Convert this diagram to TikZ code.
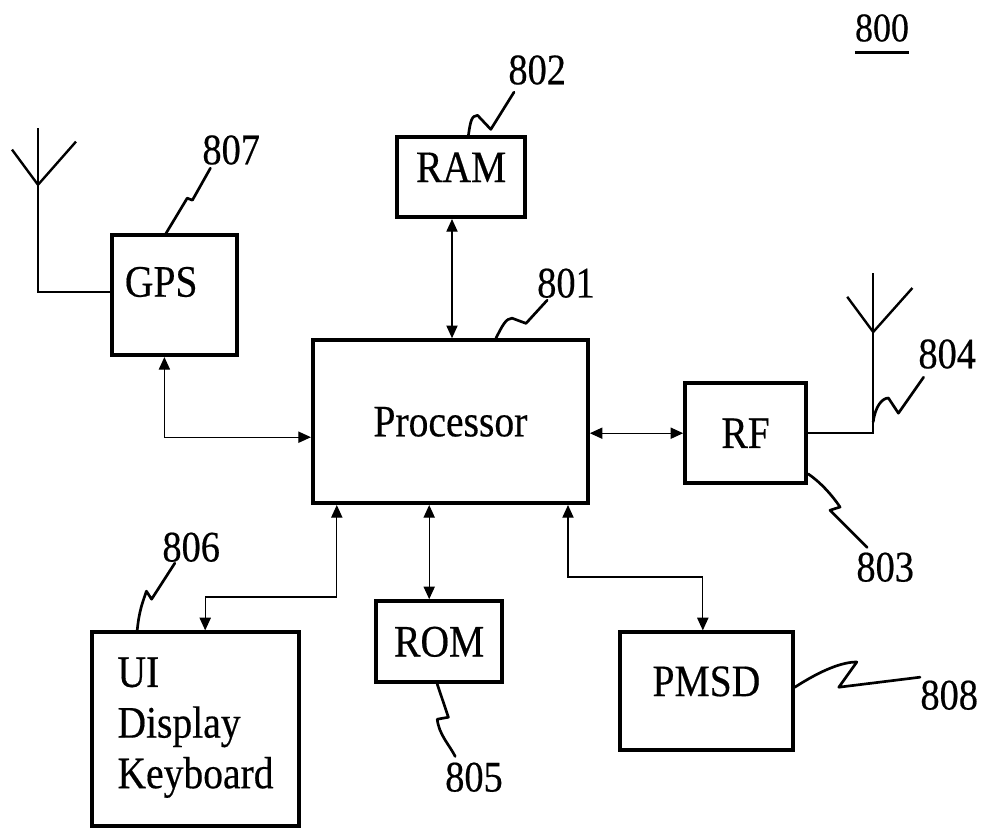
\documentclass[tikz,border=0pt]{standalone}
\usepackage{fontspec}
\setmainfont{Liberation Serif}[FakeStretch=0.88,FakeBold=0.4]
\usetikzlibrary{arrows.meta,positioning}

\begin{document}
\begin{tikzpicture}[
		box/.style={draw, line width=2.6pt, inner sep=0pt, text depth=0pt,
			font=\fontsize{32}{36}\selectfont},
		txt/.style={inner sep=0pt, font=\fontsize{32}{36}\selectfont},
		num/.style={inner sep=0pt, font=\fontsize{31}{36}\selectfont},
		biarrow/.style={{Triangle[length=9pt,width=8pt]}-{Triangle[length=9pt,width=8pt]}, line width=0.9pt},
		lead/.style={line width=1.9pt, line cap=round, line join=round},
		ant/.style={line width=1.7pt}
	]
		\useasboundingbox (0,0) rectangle (24.6,-20.725);
		% blocks
		\node[box, minimum width=6.88cm, minimum height=4.08cm] (proc) at (11.26,-10.54) {Processor};
		\node[box, minimum width=3.2cm, minimum height=2.0cm, text depth=0.5cm] (ram) at (11.53,-4.43) {RAM};
		\node[box, minimum width=3.13cm, minimum height=3.0cm] (gps) at (4.36,-7.38) {};
		\node[txt] (gpstext) at (4.03,-7.05) {GPS};
		\node[box, minimum width=3.03cm, minimum height=2.5cm] (rf) at (18.64,-10.83) {RF};
		\node[box, minimum width=3.15cm, minimum height=2.03cm] (rom) at (10.98,-16.04) {ROM};
		\node[box, minimum width=4.33cm, minimum height=2.95cm, text depth=0.5cm] (pmsd) at (17.66,-17.28) {PMSD};
		\node[box, minimum width=5.18cm, minimum height=4.85cm] (ui) at (4.89,-18.23) {};
		\node[txt, anchor=north west, align=left] (uitext) at (2.93,-16.43) {UI\\Display\\Keyboard};
		% reference numerals
		\node[num, font=\fontsize{29}{34}\selectfont] (n800) at (22.05,-0.70) {800};
		\draw[line width=2.1pt] ([yshift=-0.25cm]n800.south west) -- ([yshift=-0.25cm]n800.south east);
		\node[num] (n802) at (13.43,-1.75) {802};
		\node[num] (n807) at (5.78,-3.75) {807};
		\node[num] (n801) at (14.15,-7.08) {801};
		\node[num] (n804) at (23.68,-8.85) {804};
		\node[num] (n803) at (22.13,-14.18) {803};
		\node[num] (n806) at (4.78,-13.68) {806};
		\node[num] (n805) at (11.85,-19.43) {805};
		\node[num] (n808) at (23.73,-17.38) {808};
		% antennas
		\coordinate (gpsmast) at (0.95,-7.30);
		\draw[ant] (gps.west |- gpsmast) -- (gpsmast) -- ++(0,4.1);
		\draw[ant] ([yshift=2.68cm]gpsmast) -- ++(-0.65,0.88);
		\draw[ant] ([yshift=2.68cm]gpsmast) -- ++(0.95,1.08);
		\coordinate (rfmast) at (21.83,-10.83);
		\draw[ant] (rf.east) -- (rfmast) -- ++(0,4.0);
		\draw[ant] ([yshift=2.53cm]rfmast) -- ++(-0.65,0.88);
		\draw[ant] ([yshift=2.53cm]rfmast) -- ++(0.98,1.1);
		% buses
		\coordinate (ramfoot) at ([xshift=-0.23cm]ram.south);
		\coordinate (romtop) at ([xshift=-0.25cm]rom.north);
		\draw[biarrow] ([xshift=-0.25cm]gps.south) |- ([yshift=-0.39cm]proc.west);
		\draw[biarrow] (ramfoot) -- (ramfoot |- proc.north);
		\draw[biarrow] (proc.east |- rf.west) -- (rf.west);
		\draw[biarrow] ([xshift=-2.84cm]proc.south) -- ++(0,-2.3) -| ([xshift=0.24cm]ui.north);
		\draw[biarrow] (romtop |- proc.south) -- (romtop);
		\draw[biarrow] ([xshift=2.94cm]proc.south) -- ++(0,-1.8) -| ([xshift=-0.09cm]pmsd.north);
		% leader lines
		\draw[lead] ([xshift=0.18cm]ram.north) .. controls +(0.05,0.35) and +(-0.15,0) .. ++(0.23,0.5) -- ++(0.33,-0.35) -- ++(0.58,0.93);
		\draw[lead] ([xshift=1.14cm]proc.north) .. controls +(0.15,0.3) and +(-0.15,0) .. ++(0.4,0.5) -- ++(0.35,-0.13) -- ++(0.53,0.58);
		\draw[lead] ([xshift=-0.21cm]gps.north) -- ++(0.53,0.88) -- ++(0.13,-0.05) -- ++(0.45,0.8);
		\draw[lead] ([xshift=-1.46cm]ui.north) .. controls +(0.05,0.5) and +(-0.1,-0.3) .. ++(0.23,0.98) -- ++(0.13,-0.2) -- ++(0.58,0.9);
		\draw[lead] ([xshift=-0.05cm]rom.south) -- ++(0.28,-0.83) -- ++(-0.28,-0.05) .. controls +(0.05,-0.4) and +(-0.15,0.3) .. ++(0.45,-0.93);
		\draw[lead] ([yshift=0.1cm]pmsd.east) .. controls +(0.7,0.45) and +(-0.35,0) .. ++(1.55,0.63) -- ++(-0.45,-0.63) -- ++(2.03,0.25);
		\draw[lead] ([yshift=0.28cm]rf.south east) .. controls +(0.3,-0.2) and +(-0.2,0.3) .. ++(0.8,-0.83) -- ++(-0.25,-0.08) -- ++(0.93,-0.93);
		\draw[lead] ([yshift=0.28cm]rfmast) .. controls +(0.05,0.4) and +(-0.15,0) .. ++(0.38,0.6) -- ++(0.25,-0.38) -- ++(0.63,0.9);
	\end{tikzpicture}
\end{document}
